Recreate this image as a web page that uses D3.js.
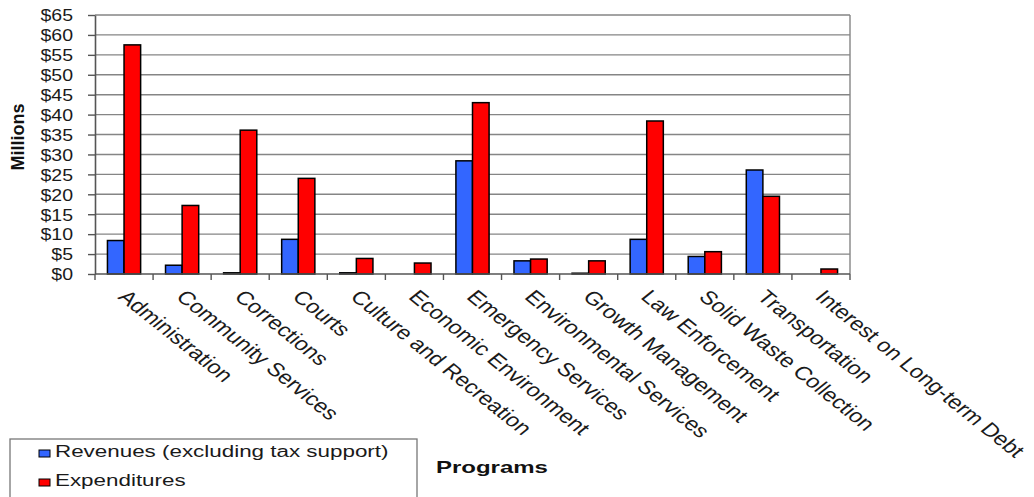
<!DOCTYPE html>
<html>
<head>
<meta charset="utf-8">
<script src="https://cdn.jsdelivr.net/npm/d3@7/dist/d3.min.js"></script>
<style>
  html, body { margin: 0; padding: 0; background: #fff; }
  svg { display: block; font-family: "Liberation Sans", Arial, sans-serif; }
</style>
</head>
<body>
<svg id="chart" width="1034" height="497"></svg>
<script>
const categories = [
  "Administration", "Community Services", "Corrections", "Courts",
  "Culture and Recreation", "Economic Environment", "Emergency Services",
  "Environmental Services", "Growth Management", "Law Enforcement",
  "Solid Waste Collection", "Transportation", "Interest on Long-term Debt"
];
const revenues     = [8.4, 2.2, 0.3, 8.7, 0.3, 0, 28.4, 3.3, 0.2, 8.7, 4.4, 26.1, 0];
const expenditures = [57.5, 17.2, 36.1, 24.0, 3.9, 2.75, 43.0, 3.75, 3.3, 38.4, 5.6, 19.5, 1.25];
const seriesNames  = ["Revenues (excluding tax support)", "Expenditures"];
const seriesColors = ["#3366ff", "#ff0000"];
const yTicks = [0, 5, 10, 15, 20, 25, 30, 35, 40, 45, 50, 55, 60, 65];
const yTitle = "Millions";
const xTitle = "Programs";

const svg = d3.select("#chart");
const L = 95, R = 850, T = 15, B = 274;

const x = d3.scaleBand().domain(categories).range([L, R]).paddingInner(0).paddingOuter(0);
const x1 = d3.scaleBand().domain([0, 1]).range([0, x.bandwidth()]).paddingInner(0).paddingOuter(0.75);
const y = d3.scaleLinear().domain([0, 65]).range([B, T]);

// gridlines
svg.append("g").selectAll("line").data(yTicks.filter(d => d > 0)).join("line")
  .attr("x1", L).attr("x2", R)
  .attr("y1", d => y(d)).attr("y2", d => y(d))
  .attr("stroke", "#858585").attr("stroke-width", 1.4);

// right border
svg.append("line").attr("x1", R).attr("x2", R).attr("y1", T).attr("y2", B)
  .attr("stroke", "#858585").attr("stroke-width", 1.4);

// y axis
const yAxis = svg.append("g").attr("transform", `translate(${L},0)`)
  .call(d3.axisLeft(y).tickValues(yTicks).tickSize(7).tickSizeOuter(0).tickFormat(d => "$" + d));
yAxis.select(".domain").attr("stroke", "#555").attr("stroke-width", 1.6);
yAxis.selectAll(".tick line").attr("stroke", "#555").attr("stroke-width", 1.4);
yAxis.selectAll(".tick text")
  .attr("x", null).attr("dy", "0.36em")
  .attr("transform", "translate(-22,0) scale(1.22,1)")
  .attr("text-anchor", "end")
  .attr("font-size", 16).attr("fill", "#1a1a1a")
  .style("font-family", '"Liberation Sans", Arial, sans-serif');

// bars
const groups = svg.append("g").selectAll("g").data(categories).join("g")
  .attr("transform", d => `translate(${x(d)},0)`);
groups.selectAll("rect").data((d, i) => [revenues[i], expenditures[i]]).join("rect")
  .attr("x", (d, j) => x1(j))
  .attr("width", x1.bandwidth())
  .attr("y", d => y(d))
  .attr("height", d => y(0) - y(d))
  .attr("fill", (d, j) => seriesColors[j])
  .attr("stroke", "#000").attr("stroke-width", 1.5)
  .attr("display", d => d > 0 ? null : "none");

// x axis line + boundary ticks
svg.append("line").attr("x1", L).attr("x2", R).attr("y1", B).attr("y2", B)
  .attr("stroke", "#555").attr("stroke-width", 1.6);
svg.append("g").selectAll("line").data(d3.range(categories.length + 1)).join("line")
  .attr("x1", i => L + i * x.step()).attr("x2", i => L + i * x.step())
  .attr("y1", B).attr("y2", B + 6)
  .attr("stroke", "#555").attr("stroke-width", 1.4);

// x labels
svg.append("g").selectAll("text").data(categories).join("text")
  .attr("transform", d => `translate(${x(d) + x.bandwidth() / 2 - 7},${B + 24}) scale(1.25,1) rotate(45)`)
  .attr("font-size", 19).attr("fill", "#1a1a1a")
  .text(d => d);

// y title
svg.append("text")
  .attr("transform", `translate(24,137) rotate(-90)`)
  .attr("text-anchor", "middle")
  .attr("font-size", 18).attr("font-weight", "bold").attr("fill", "#111")
  .text(yTitle);

// x title
svg.append("text")
  .attr("transform", `translate(436,473) scale(1.5,1)`)
  .attr("font-size", 16).attr("font-weight", "bold").attr("fill", "#111")
  .text(xTitle);

// legend
const lg = svg.append("g");
lg.append("rect").attr("x", 10).attr("y", 439).attr("width", 407).attr("height", 80)
  .attr("fill", "#fff").attr("stroke", "#777").attr("stroke-width", 1.3);
const items = lg.selectAll("g").data(seriesNames).join("g")
  .attr("transform", (d, i) => `translate(0,${457 + i * 29})`);
items.append("rect").attr("x", 39).attr("y", -7).attr("width", 11).attr("height", 7)
  .attr("fill", (d, i) => seriesColors[i]).attr("stroke", "#000").attr("stroke-width", 1);
items.append("text")
  .attr("transform", "translate(55,0) scale(1.4,1)")
  .attr("font-size", 16).attr("fill", "#1a1a1a")
  .text(d => d);
</script>
</body>
</html>
